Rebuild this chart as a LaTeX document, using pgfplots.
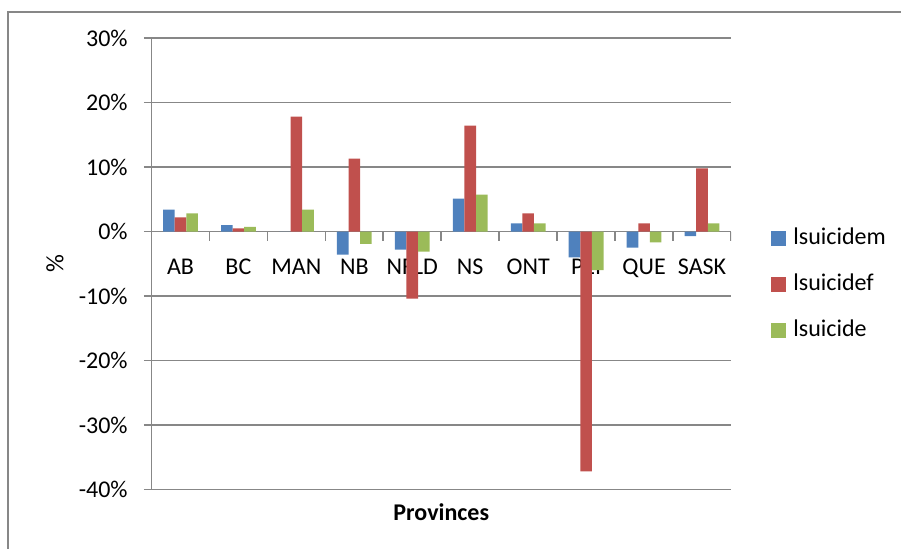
\documentclass[border=0pt]{standalone}
\usepackage{fontspec}
\setmainfont{Carlito}
\usepackage{pgfplots}
\pgfplotsset{compat=1.18}
\definecolor{cblue}{HTML}{4F81BD}
\definecolor{cred}{HTML}{C0504D}
\definecolor{cgreen}{HTML}{9BBB59}
\definecolor{gridgray}{HTML}{878787}
\pgfplotsset{/pgfplots/ybar legend/.style={/pgfplots/legend image code/.code={\fill[##1] (0pt,-3.75pt) rectangle (7.5pt,3.75pt);}}}
\begin{document}
\fontsize{12}{14}\selectfont
\begin{tikzpicture}
\useasboundingbox (0,0) rectangle (450.5pt,274pt);
\draw[gridgray, line width=0.8pt] (4pt,-5pt) -- (4pt,268pt) -- (460pt,268pt);
\begin{axis}[
  at={(75.75pt,29.25pt)}, anchor=south west,
  scale only axis, width=289.75pt, height=225.75pt,
  ymin=-40, ymax=30, xmin=-0.5, xmax=9.5,
  axis x line=middle, axis y line=left,
  axis line style={-, gridgray, line width=0.8pt},
  ytick={-40,-30,...,30},
  yticklabels={-40\%,-30\%,-20\%,-10\%,0\%,10\%,20\%,30\%},
  xtick={0,...,9},
  xticklabels={AB,BC,MAN,NB,NFLD,NS,ONT,PEI,QUE,SASK},
  ymajorgrids, grid style={gridgray, line width=0.8pt},
  tick align=outside, major tick length=3.75pt,
  x tick style={draw=none}, y tick style={gridgray, line width=0.8pt},
  xticklabel style={yshift=-6pt},
  yticklabel style={xshift=-4pt},
  ticklabel style={font=\fontsize{12}{14}\selectfont},
  ylabel={\%}, ylabel style={at={(axis description cs:-0.1665,0.5)}, anchor=center, font=\fontsize{12.5}{14}\selectfont},
  xlabel={\textbf{Provinces}}, xlabel style={at={(axis description cs:0.5,-0.05)}, anchor=center, font=\fontsize{12}{14}\selectfont},
  ybar=0pt, bar width=0.2,
  legend style={draw=none, fill=none, inner sep=0pt, at={(axis description cs:1.069,0.455)}, anchor=west,
    font=\fontsize{12}{14}\selectfont,
    nodes={inner sep=0pt, text height=8pt, text depth=2pt}, row sep=13pt, column sep=3.5pt},
  legend cell align=left,
]
\addplot[fill=cblue, draw=none] coordinates {(0,3.4) (1,1.0) (2,0) (3,-3.6) (4,-2.8) (5,5.1) (6,1.25) (7,-4.0) (8,-2.5) (9,-0.7)};
\addplot[fill=cred, draw=none] coordinates {(0,2.2) (1,0.5) (2,17.8) (3,11.3) (4,-10.4) (5,16.4) (6,2.8) (7,-37.2) (8,1.25) (9,9.8)};
\addplot[fill=cgreen, draw=none] coordinates {(0,2.8) (1,0.7) (2,3.4) (3,-1.9) (4,-3.1) (5,5.7) (6,1.25) (7,-6.0) (8,-1.7) (9,1.25)};
\legend{lsuicidem,lsuicidef,lsuicide}
\pgfplotsinvokeforeach{0.5,1.5,...,9.5}{\draw[gridgray, line width=0.8pt] (axis cs:#1,0) -- ++(0pt,-4.5pt);}
\end{axis}
\end{tikzpicture}
\end{document}
